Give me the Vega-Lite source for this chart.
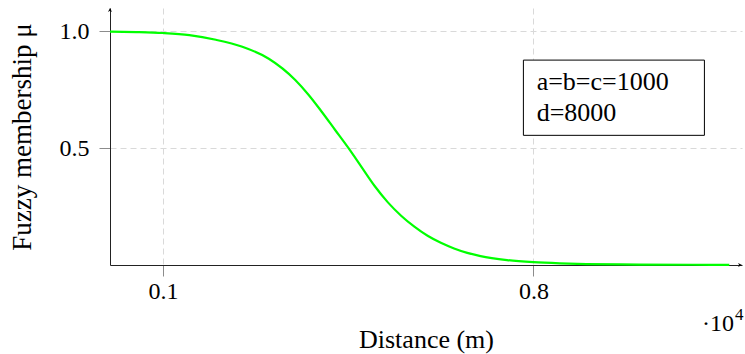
{
  "$schema": "https://vega.github.io/schema/vega-lite/v6.json",
  "autosize": "none",
  "width": 632,
  "height": 257,
  "padding": {"left": 110, "top": 8, "right": 3, "bottom": 89},
  "background": "white",
  "config": {
    "view": {"stroke": null},
    "font": "'Liberation Serif', 'DejaVu Serif', serif",
    "axis": {
      "labelFont": "'Liberation Serif', 'DejaVu Serif', serif",
      "titleFont": "'Liberation Serif', 'DejaVu Serif', serif",
      "labelColor": "black",
      "titleColor": "black",
      "titleFontWeight": "normal",
      "labelFontSize": 24,
      "titleFontSize": 26,
      "domainColor": "#222222",
      "domainWidth": 1,
      "tickColor": "#8c8c8c",
      "tickSize": 11,
      "tickWidth": 1,
      "gridColor": "#d9d9d9",
      "gridDash": [6, 4],
      "gridWidth": 1
    }
  },
  "layer": [
    {
      "data": {
        "values": [
          {"distance": 0, "mu": 0.999},
          {"distance": 500, "mu": 0.997},
          {"distance": 1000, "mu": 0.993},
          {"distance": 1500, "mu": 0.984},
          {"distance": 2000, "mu": 0.964},
          {"distance": 2500, "mu": 0.934},
          {"distance": 3000, "mu": 0.883},
          {"distance": 3500, "mu": 0.792},
          {"distance": 3750, "mu": 0.729},
          {"distance": 4000, "mu": 0.656},
          {"distance": 4250, "mu": 0.579},
          {"distance": 4500, "mu": 0.502},
          {"distance": 4750, "mu": 0.420},
          {"distance": 5000, "mu": 0.338},
          {"distance": 5250, "mu": 0.268},
          {"distance": 5500, "mu": 0.211},
          {"distance": 5750, "mu": 0.164},
          {"distance": 6000, "mu": 0.125},
          {"distance": 6250, "mu": 0.095},
          {"distance": 6500, "mu": 0.071},
          {"distance": 6750, "mu": 0.052},
          {"distance": 7000, "mu": 0.038},
          {"distance": 7500, "mu": 0.021},
          {"distance": 8000, "mu": 0.012},
          {"distance": 8500, "mu": 0.007},
          {"distance": 9000, "mu": 0.004},
          {"distance": 10000, "mu": 0.002},
          {"distance": 11000, "mu": 0.001},
          {"distance": 11700, "mu": 0.0005}
        ]
      },
      "mark": {"type": "line", "color": "#00ff00", "strokeWidth": 2.2, "interpolate": "monotone"},
      "encoding": {
        "x": {
          "field": "distance",
          "type": "quantitative",
          "scale": {"domain": [0, 11940], "nice": false, "zero": false},
          "axis": {
            "values": [1000, 8000],
            "labelExpr": "format(datum.value / 10000, '.1f')",
            "grid": true,
            "labelPadding": 3,
            "title": "Distance (m)",
            "titlePadding": 23
          }
        },
        "y": {
          "field": "mu",
          "type": "quantitative",
          "scale": {"domain": [0, 1.1], "nice": false},
          "axis": {
            "values": [0.5, 1.0],
            "format": ".1f",
            "grid": true,
            "labelPadding": 10,
            "title": "Fuzzy membership μ",
            "titleFontSize": 27,
            "titlePadding": 23
          }
        }
      }
    },
    {
      "data": {"values": [{}]},
      "mark": {"type": "rect", "fill": "white", "stroke": "black", "strokeWidth": 1},
      "encoding": {
        "x": {"datum": 7810, "type": "quantitative"},
        "x2": {"datum": 11230},
        "y": {"datum": 0.877, "type": "quantitative"},
        "y2": {"datum": 0.555}
      }
    },
    {
      "data": {"values": [{"line": "a=b=c=1000", "px": 8060, "py": 0.785}, {"line": "d=8000", "px": 8060, "py": 0.652}]},
      "mark": {"type": "text", "align": "left", "baseline": "middle", "fontSize": 26, "font": "'Liberation Serif', 'DejaVu Serif', serif", "color": "black"},
      "encoding": {
        "x": {"field": "px", "type": "quantitative"},
        "y": {"field": "py", "type": "quantitative"},
        "text": {"field": "line"}
      }
    },
    {
      "data": {"values": [{}]},
      "mark": {"type": "point", "shape": "M0,0L-2,-1L-1.4,0L-2,1Z", "size": 16, "filled": true, "color": "black", "opacity": 1},
      "encoding": {
        "x": {"datum": 11940, "type": "quantitative"},
        "y": {"datum": 0, "type": "quantitative"}
      }
    },
    {
      "data": {"values": [{}]},
      "mark": {"type": "point", "shape": "M0,0L-1,2L0,1.4L1,2Z", "size": 16, "filled": true, "color": "black", "opacity": 1},
      "encoding": {
        "x": {"datum": 0, "type": "quantitative"},
        "y": {"datum": 1.1, "type": "quantitative"}
      }
    },
    {
      "data": {"values": [{}]},
      "mark": {"type": "text", "align": "right", "baseline": "middle", "fontSize": 24, "font": "'Liberation Serif', 'DejaVu Serif', serif", "color": "black", "dy": 59},
      "encoding": {
        "x": {"datum": 11790, "type": "quantitative"},
        "y": {"datum": 0, "type": "quantitative"},
        "text": {"value": "·10"}
      }
    },
    {
      "data": {"values": [{}]},
      "mark": {"type": "text", "align": "left", "baseline": "middle", "fontSize": 17, "font": "'Liberation Serif', 'DejaVu Serif', serif", "color": "black", "dy": 50, "dx": 1},
      "encoding": {
        "x": {"datum": 11790, "type": "quantitative"},
        "y": {"datum": 0, "type": "quantitative"},
        "text": {"value": "4"}
      }
    }
  ]
}
